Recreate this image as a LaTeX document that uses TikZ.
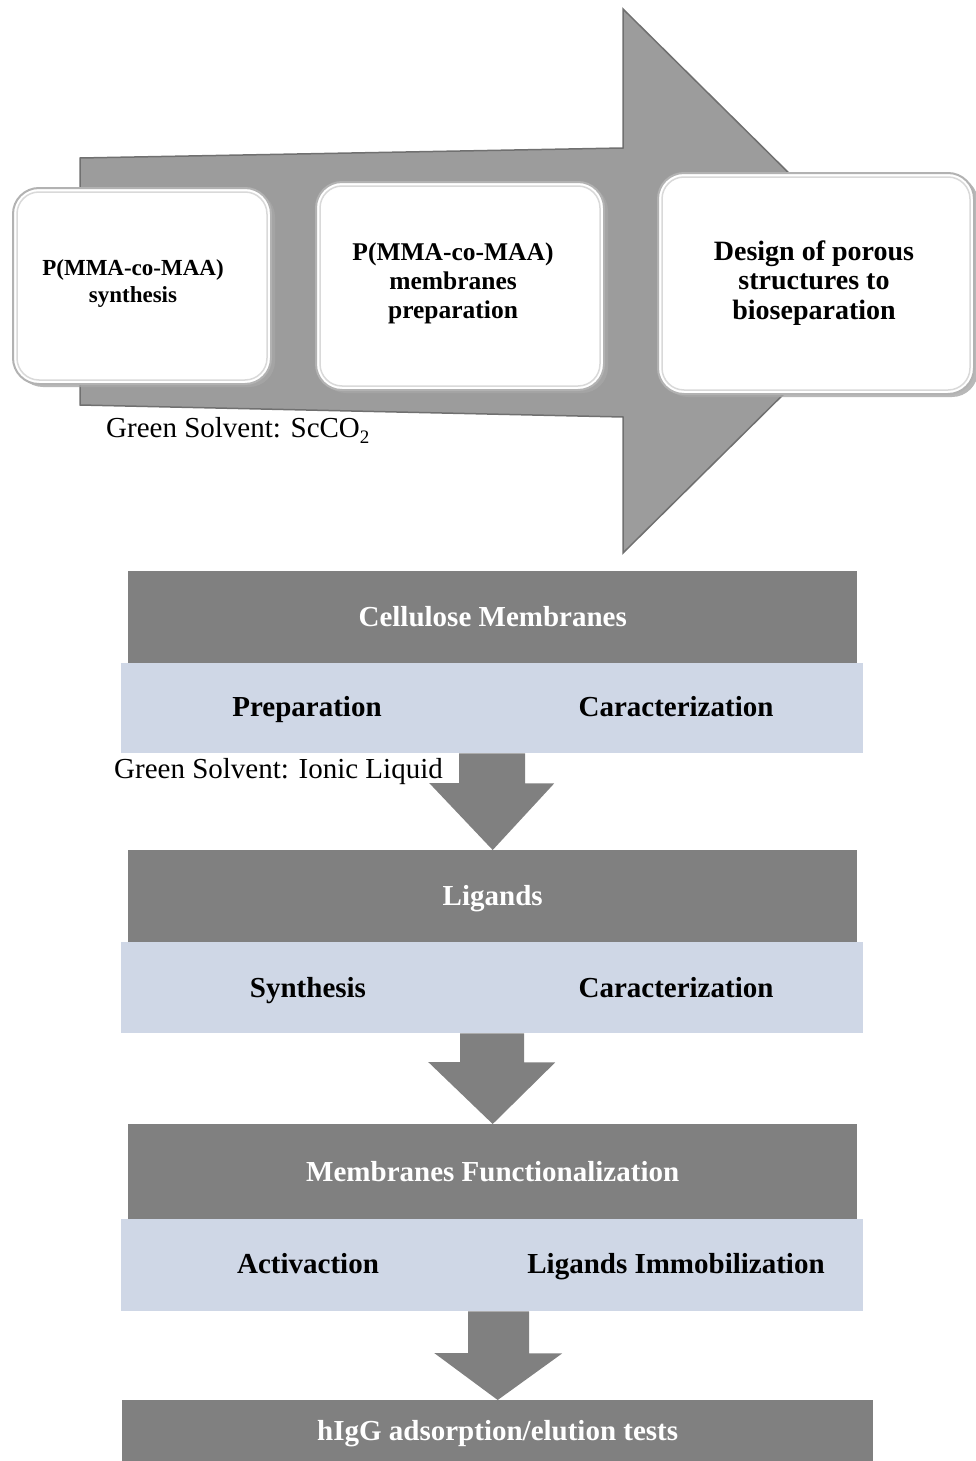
\documentclass[tikz,border=0pt]{standalone}
\usepackage{fontspec}
\setmainfont{Liberation Serif}
\usetikzlibrary{calc,shadows}
\definecolor{dgray}{HTML}{808080}
\definecolor{lblue}{HTML}{CFD7E6}
\definecolor{shaftgray}{HTML}{9C9C9C}
\definecolor{shaftedge}{HTML}{707070}
\begin{document}
\begin{tikzpicture}[x=1pt,y=-1pt,
  darkbar/.style={fill=dgray, inner sep=0pt, anchor=north west, text=white,
    font=\fontsize{29}{33}\selectfont\bfseries, text height=19pt, text depth=0pt},
  lightbar/.style={fill=lblue, inner sep=0pt, anchor=north west},
  btext/.style={font=\fontsize{29}{33}\selectfont\bfseries, inner sep=0pt,
    text height=19pt, text depth=0pt},
  note/.style={font=\fontsize{29}{33}\selectfont, inner sep=0pt, anchor=base west},
  stepbox/.style={fill=white, draw=gray!60, line width=2pt, rounded corners=26pt,
    inner sep=0pt, anchor=north west,
    drop shadow={shadow xshift=4pt, shadow yshift=-3pt, fill=gray!70, opacity=0.8}},
  innerring/.style={draw=gray!30, line width=1.5pt, rounded corners=22pt},
  boxtext/.style={align=center, inner sep=0pt},
  flowarrow/.style={fill=dgray},
]
\useasboundingbox (0,0) rectangle (976,1461);

% big process arrow (background shape)
\path[fill=shaftgray, draw=shaftedge, line width=1.5pt]
  (80,158) -- (623,148) -- (623,9) -- (898,281) -- (623,553) -- (623,417) -- (80,405) -- cycle;

% step boxes
\node[stepbox, minimum width=258pt, minimum height=196pt] (b1) at (12,187) {};
\draw[innerring] ($(b1.north west)+(5,5)$) rectangle ($(b1.south east)+(-5,-5)$);
\node[stepbox, minimum width=288pt, minimum height=208pt] (b2) at (315,181) {};
\draw[innerring] ($(b2.north west)+(5,5)$) rectangle ($(b2.south east)+(-5,-5)$);
\node[stepbox, minimum width=316pt, minimum height=221pt] (b3) at (657,172) {};
\draw[innerring] ($(b3.north west)+(5,5)$) rectangle ($(b3.south east)+(-5,-5)$);

\node[boxtext, font=\fontsize{23}{27}\selectfont\bfseries] (t1) at (133,284) {P(MMA-co-MAA)\\synthesis};
\node[boxtext, font=\fontsize{25.5}{29}\selectfont\bfseries] (t2) at (453,283) {P(MMA-co-MAA)\\membranes\\preparation};
\node[boxtext, font=\fontsize{28}{29.5}\selectfont\bfseries] (t3) at (814,283) {Design of porous\\structures to\\bioseparation};

\node[note] (g1) at (106,437) {Green Solvent: ScCO\raisebox{-0.22em}{\fontsize{19}{19}\selectfont 2}};

% stage 1
\node[darkbar, minimum width=729pt, minimum height=92pt] (d1) at (128,571) {Cellulose Membranes};
\node[lightbar, minimum width=742pt, minimum height=90pt] (l1) at (121,663) {};
\node[btext] (p1) at (307,707) {Preparation};
\node[btext] (c1) at (676,707) {Caracterization};
\node[note] (g2) at (114,778) {Green Solvent: Ionic Liquid};

% stage 2
\node[darkbar, minimum width=729pt, minimum height=92pt] (d2) at (128,850) {Ligands};
\node[lightbar, minimum width=742pt, minimum height=91pt] (l2) at (121,942) {};
\node[btext] (s2) at (308,988) {Synthesis};
\node[btext] (c2) at (676,988) {Caracterization};

% stage 3
\node[darkbar, minimum width=729pt, minimum height=95pt] (d3) at (128,1124) {Membranes Functionalization};
\node[lightbar, minimum width=742pt, minimum height=92pt] (l3) at (121,1219) {};
\node[btext] (a3) at (308,1264) {Activaction};
\node[btext] (i3) at (676,1264) {Ligands Immobilization};

% final
\node[darkbar, minimum width=751pt, minimum height=61pt] (d4) at (122,1400) {hIgG adsorption/elution tests};

% down arrows
\fill[flowarrow] (l1.south) ++(-33,0) -- ++(66,0) -- ++(0,30) -- ++(29,0) -- (d2.north)
  -- ++(-63.5,-67) -- ++(30,0) -- cycle;
\fill[flowarrow] (l2.south) ++(-32,0) -- ++(64,0) -- ++(0,29) -- ++(31,0) -- (d3.north)
  -- ++(-64.5,-62) -- ++(32,0) -- cycle;
\fill[flowarrow] (l3.south) ++(-24,0) -- ++(61,0) -- ++(0,42) -- ++(33,0) -- (d4.north)
  -- ++(-63.5,-47) -- ++(34,0) -- cycle;
\end{tikzpicture}
\end{document}
